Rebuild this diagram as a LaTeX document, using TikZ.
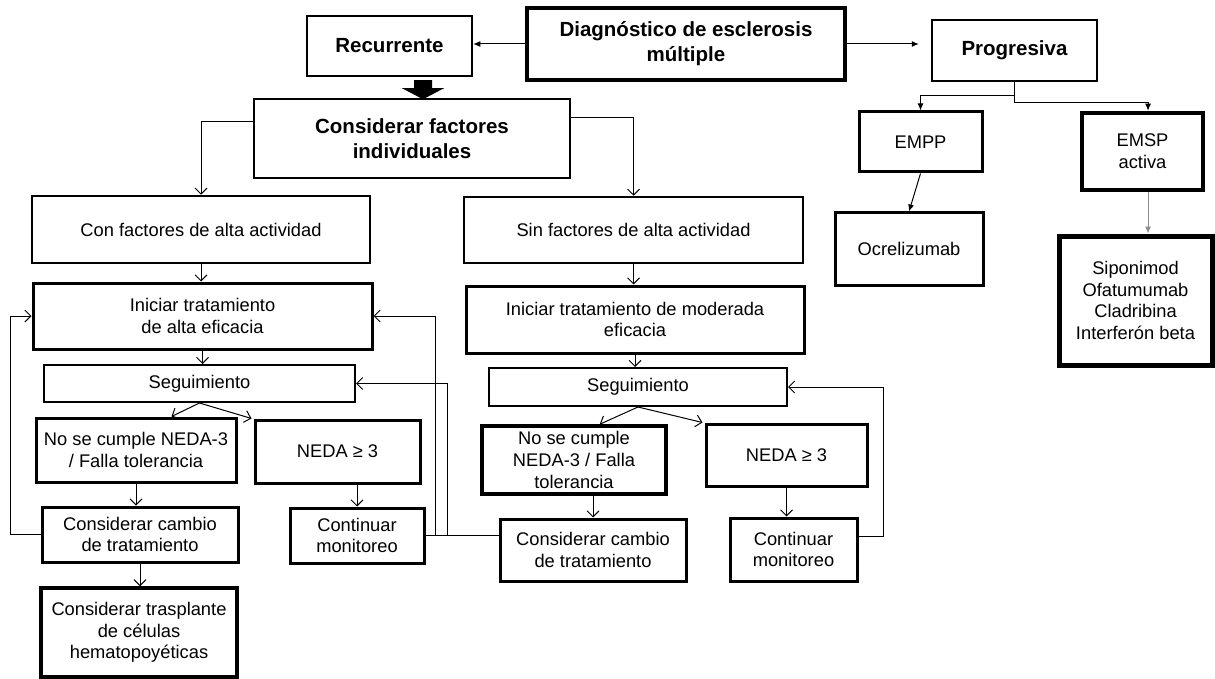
\documentclass[tikz,border=0pt]{standalone}
\usepackage{fontspec}
\setmainfont{Liberation Sans}
\usetikzlibrary{arrows.meta,calc}
\begin{document}
\begin{tikzpicture}[x=1pt,y=-1pt,
  box/.style={draw=black, inner sep=0pt, align=center, font=\fontsize{18.3}{21.7}\selectfont},
  bbox/.style={box, font=\fontsize{20.5}{25}\selectfont\bfseries},
  lw/.style={line width=#1pt},
  conn/.style={draw=black, line width=1pt, -{Straight Barb[length=6pt,width=12pt]}},
  sconn/.style={draw=black, line width=1pt, -{Latex[length=7pt,width=6pt]}},
  gconn/.style={color=black!45, line width=1pt, -{Latex[length=7pt,width=6pt]}}
]
\useasboundingbox (0,0) rectangle (1215,679);

% top row
\node[bbox, lw=3.5, minimum width=318pt, minimum height=72pt] (diag) at (686,44) {Diagnóstico de esclerosis\\múltiple};
\node[bbox, lw=2.5, minimum width=165pt, minimum height=60pt] (rec) at (389.5,46) {Recurrente};
\node[bbox, lw=2.5, minimum width=165pt, minimum height=61pt] (prog) at (1014.5,50.5) {Progresiva};
\node[bbox, lw=2.5, minimum width=316pt, minimum height=79pt] (cfi) at (412,138.5) {Considerar factores\\individuales};

% progressive branch
\node[box, lw=3, minimum width=123pt, minimum height=60pt] (emp) at (920.5,142) {EMPP};
\node[box, lw=4.5, minimum width=121pt, minimum height=77pt] (ems) at (1142.5,151.5) {EMSP\\activa};
\node[box, lw=3, minimum width=148pt, minimum height=72pt] (ocr) at (909,249) {Ocrelizumab};
\node[box, lw=5, minimum width=153pt, minimum height=129pt] (sip) at (1135.5,300.5) {Siponimod\\Ofatumumab\\Cladribina\\Interferón beta};

% left column
\node[box, lw=2.5, minimum width=338pt, minimum height=67pt] (con) at (201,229.5) {Con factores de alta actividad};
\node[box, lw=3, minimum width=339pt, minimum height=66pt] (ini1) at (202.5,316) {Iniciar tratamiento\\de alta eficacia};
\node[box, lw=2, minimum width=311pt, minimum height=37pt] (seg1) at (199.5,383.5) {Seguimiento};
\node[box, lw=3, minimum width=200pt, minimum height=64pt] (nos1) at (136,450) {No se cumple NEDA-3\\/ Falla tolerancia};
\node[box, lw=3, minimum width=165pt, minimum height=63pt] (ned1) at (337.5,451.5) {NEDA ≥ 3};
\node[box, lw=3, minimum width=196pt, minimum height=55pt] (cc1) at (140,534.5) {Considerar cambio\\de tratamiento};
\node[box, lw=3, minimum width=134pt, minimum height=55pt] (cm1) at (357,535.5) {Continuar\\monitoreo};
\node[box, lw=3.5, minimum width=196pt, minimum height=89pt] (tra) at (139,632.5) {Considerar trasplante\\de células\\hematopoyéticas};

% middle column
\node[box, lw=2.5, minimum width=339pt, minimum height=66pt] (sin) at (633.5,230) {Sin factores de alta actividad};
\node[box, lw=3, minimum width=338pt, minimum height=67pt] (ini2) at (635,319.5) {Iniciar tratamiento de moderada\\eficacia};
\node[box, lw=2, minimum width=298pt, minimum height=38pt] (seg2) at (638,387) {Seguimiento};
\node[box, lw=3.5, minimum width=184pt, minimum height=68pt] (nos2) at (574,460) {No se cumple\\NEDA-3 / Falla\\tolerancia};
\node[box, lw=3, minimum width=161pt, minimum height=62pt] (ned2) at (786.5,455) {NEDA ≥ 3};
\node[box, lw=3, minimum width=186pt, minimum height=62pt] (cc2) at (593,550) {Considerar cambio\\de tratamiento};
\node[box, lw=3, minimum width=127pt, minimum height=63pt] (cm2) at (793.5,549.5) {Continuar\\monitoreo};

% helper coordinates
\coordinate (y96) at (0,96);
\coordinate (y103) at (0,103);
\coordinate (y122) at (0,122);
\coordinate (y118) at (0,118);
\coordinate (y535) at (0,535);
\coordinate (y536) at (0,536);
\coordinate (L1) at (10,0);
\coordinate (L2) at (447,0);
\coordinate (L3) at (435,0);
\coordinate (L4) at (883,0);

% top connectors
\draw[sconn] (diag.west) -- (rec.east |- diag.west);
\draw[sconn, shorten >=12pt] (diag.east) -- (prog.west |- diag.east);
\coordinate (ba) at ($(rec.south)+(33.5,3)$);
\fill[black] (ba) ++(-9,0) -- ++(18,0) -- ++(0,8) -- ++(12,0) -- ++(-21,11) -- ++(-21,-11) -- ++(12,0) -- cycle;

\draw[sconn] (prog.south) -- (prog.south |- y96) -| (emp.north);
\draw[sconn] (prog.south) -- (prog.south |- y103) -| ([xshift=5.5pt]ems.north);
\draw[sconn] (emp.south) -- (ocr.north);
\draw[gconn] ([xshift=5.5pt]ems.south) -- ([xshift=5.5pt]ems.south |- sip.north);

\draw[conn] (cfi.west |- y122) -| (con.north);
\draw[conn] (cfi.east |- y118) -| (sin.north);

% left column connectors
\draw[conn] (con.south) -- (con.south |- ini1.north);
\draw[conn] (ini1.south) -- (ini1.south |- seg1.north);
\draw[conn] (seg1.south) -- ([xshift=-66pt]nos1.north east);
\draw[conn] (seg1.south) -- ([xshift=-2pt]ned1.north west);
\draw[conn] (nos1.south) -- (nos1.south |- cc1.north);
\draw[conn] (cm1.north |- ned1.south) -- (cm1.north);
\draw[conn] (cc1.south) -- (cc1.south |- tra.north);

% loops
\draw[conn] (cc1.west) -- (cc1.west -| L1) |- (ini1.west);
\draw[conn] (cm1.east) -- (cm1.east -| L2) |- (seg1.east);
\draw[conn] (cc2.west |- y535) -- (L3 |- y535) |- (ini1.east);
\draw[conn] (cm2.east |- y536) -- (L4 |- y536) |- (seg2.east);

% middle column connectors
\draw[conn] (sin.south) -- (sin.south |- ini2.north);
\draw[conn] (ini2.south) -- (ini2.south |- seg2.north);
\draw[conn] (seg2.south) -- ([xshift=-68pt]nos2.north east);
\draw[conn] (seg2.south) -- ([xshift=-2pt]ned2.north west);
\draw[conn] (cc2.north |- nos2.south) -- (cc2.north);
\draw[conn] (ned2.south) -- (ned2.south |- cm2.north);
\end{tikzpicture}
\end{document}
